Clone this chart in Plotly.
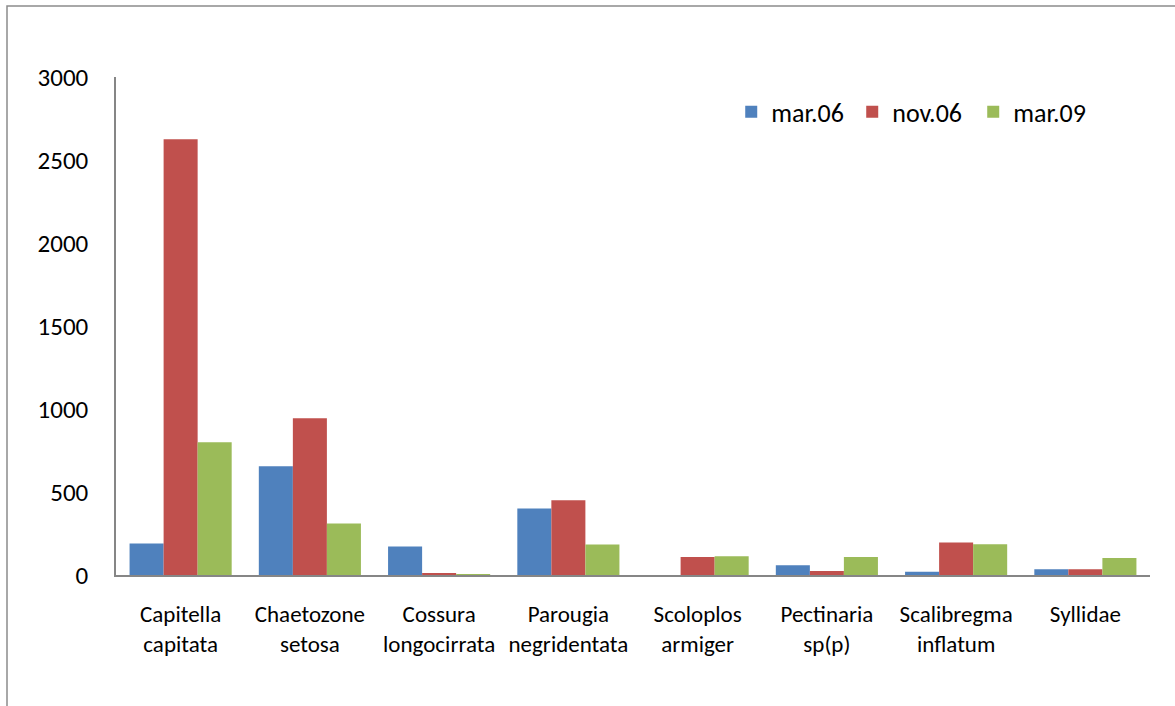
import plotly.graph_objects as go

# Polychaete abundance per species, three sampling campaigns
species_line1 = ["Capitella", "Chaetozone", "Cossura", "Parougia", "Scoloplos",
                 "Pectinaria", "Scalibregma", "Syllidae"]
species_line2 = ["capitata", "setosa", "longocirrata", "negridentata", "armiger",
                 "sp(p)", "inflatum", ""]
categories = [f"{a} {b}".strip() for a, b in zip(species_line1, species_line2)]
tick_labels = [f"{a}<br>{b}" if b else a for a, b in zip(species_line1, species_line2)]

mar06 = [190, 655, 171, 401, 0, 58, 20, 35]
nov06 = [2625, 944, 12, 451, 109, 24, 196, 35]
mar09 = [800, 310, 6, 183, 113, 109, 185, 103]

series = [("mar.06", mar06, "#4F81BD"),
          ("nov.06", nov06, "#C0504D"),
          ("mar.09", mar09, "#9BBB59")]

FONT = "Calibri, Carlito, Lato, 'Open Sans', sans-serif"

fig = go.Figure()
for name, vals, col in series:
    fig.add_trace(go.Bar(x=categories, y=vals, name=name, marker_color=col,
                         marker_line_width=0))

fig.update_layout(
    width=1175, height=706,
    margin=dict(l=116, r=25, t=77, b=131),
    paper_bgcolor="white", plot_bgcolor="white",
    barmode="group", bargap=0.21, bargroupgap=0,
    font=dict(family=FONT, color="black"),
    showlegend=True,
    legend=dict(orientation="h", x=0.595, y=0.93, xanchor="left", yanchor="middle",
                font=dict(family=FONT, size=26, color="black"),
                entrywidth=76, entrywidthmode="pixels",
                bgcolor="rgba(0,0,0,0)"),
    shapes=[dict(type="rect", xref="paper", yref="paper",
                 x0=(7 - 116) / 1034, x1=1.2, y0=-0.5, y1=1 + 71 / 498,
                 line=dict(color="#8C8C8C", width=1.5), layer="below")],
)
fig.update_xaxes(tickvals=categories, ticktext=tick_labels,
                 tickfont=dict(family=FONT, size=23, color="black"),
                 ticklabelstandoff=17,
                 showline=True, linecolor="#868686", linewidth=2,
                 ticks="", showgrid=False, zeroline=False)
fig.update_yaxes(range=[0, 3000], tickvals=[0, 500, 1000, 1500, 2000, 2500, 3000],
                 showline=True, linecolor="#868686", linewidth=1.5, ticks="",
                 showgrid=False, zeroline=False, ticklabelstandoff=21,
                 tickfont=dict(family=FONT, size=25, color="black"))

fig.write_html("out.html")
